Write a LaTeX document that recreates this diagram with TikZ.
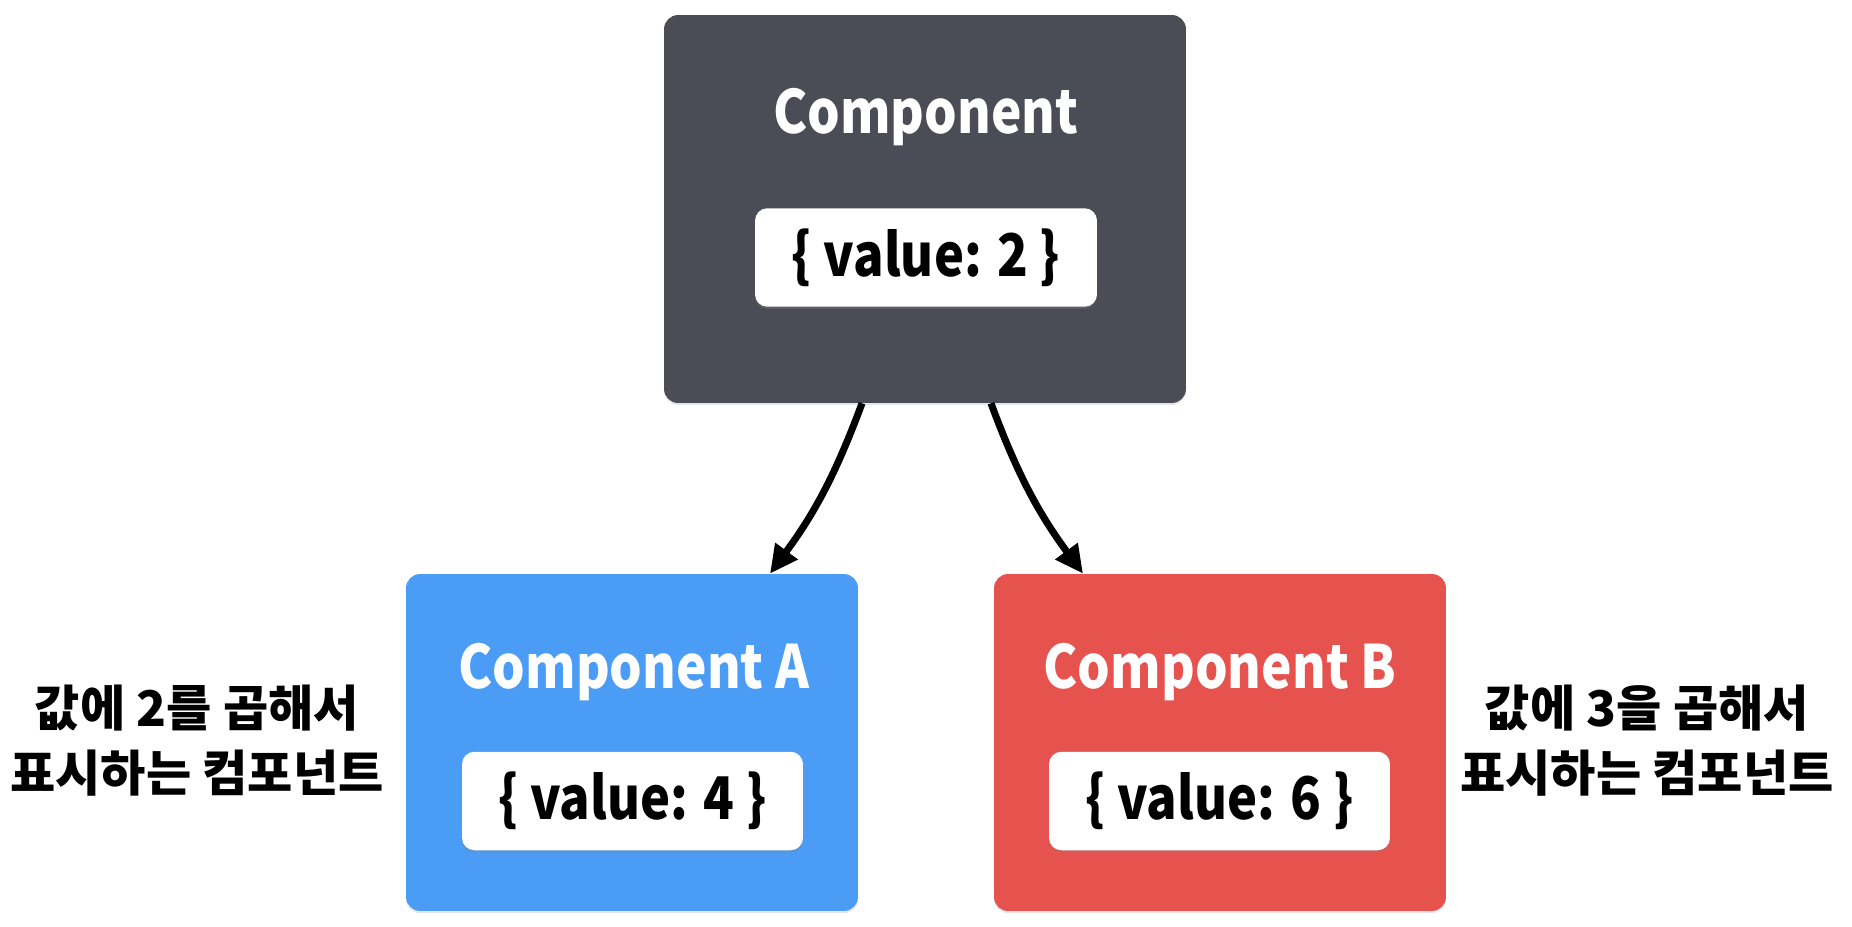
\documentclass[tikz,border=0pt]{standalone}
\usepackage{fontspec}
\usepackage{graphicx}
\setmainfont{Noto Sans CJK KR}
\usetikzlibrary{positioning,arrows.meta,shadows}
\definecolor{compgray}{HTML}{4A4D55}
\definecolor{compblue}{HTML}{4A9CF5}
\definecolor{compred}{HTML}{E6534F}
\newcommand{\narrow}[1]{\scalebox{0.86}[1]{#1}}
\begin{document}
\begin{tikzpicture}[x=0.02cm,y=-0.02cm,
    compbox/.style={rounded corners=8pt,inner sep=0pt,
        drop shadow={shadow xshift=0pt,shadow yshift=-1.2pt,opacity=0.2}},
    valbox/.style={fill=white,rounded corners=7pt,inner sep=0pt,
        minimum height=1.97cm,
        font=\bfseries\fontsize{33.5}{38}\selectfont,
        drop shadow={shadow xshift=0pt,shadow yshift=-1.2pt,opacity=0.3}},
    title/.style={anchor=base,text=white,
        font=\bfseries\fontsize{34}{38}\selectfont},
    note/.style={align=center,font=\bfseries\fontsize{28}{37}\selectfont},
    link/.style={line width=4pt,-{Triangle[length=16pt,width=15pt]}}]
            \useasboundingbox (0,0) rectangle (1852,926);
            % top component
            \node[compbox,fill=compgray,minimum width=10.44cm,
                minimum height=7.76cm] (comp) at (925,209) {};
            \node[title] (compTitle) at (926,133) {\narrow{Component}};
            \node[valbox,minimum width=6.84cm] (valTop)
                at (926,257.5) {\narrow{\{ value: 2 \}}};
            % child components
            \node[compbox,fill=compblue,minimum width=9.04cm,
                minimum height=6.74cm] (compA) at (632,742.5) {};
            \node[title] (compATitle) at (634,688) {\narrow{Component A}};
            \node[valbox,minimum width=6.82cm] (valA)
                at (632.5,801) {\narrow{\{ value: 4 \}}};
            \node[compbox,fill=compred,minimum width=9.04cm,
                minimum height=6.74cm] (compB) at (1220,742.5) {};
            \node[title] (compBTitle) at (1220,688) {\narrow{Component B}};
            \node[valbox,minimum width=6.82cm] (valB)
                at (1219.5,801) {\narrow{\{ value: 6 \}}};
            % notes
            \node[note] (noteA) at (197,741) {값에 2를 곱해서\\표시하는 컴포넌트};
            \node[note] (noteB) at (1647,741) {값에 3을 곱해서\\표시하는 컴포넌트};
            % arrows
            \draw[link] ([xshift=-1.26cm]comp.south)
                to[bend left=8] ([xshift=2.76cm]compA.north);
            \draw[link] ([xshift=1.32cm]comp.south)
                to[bend right=8] ([xshift=-2.74cm]compB.north);
\end{tikzpicture}
\end{document}
